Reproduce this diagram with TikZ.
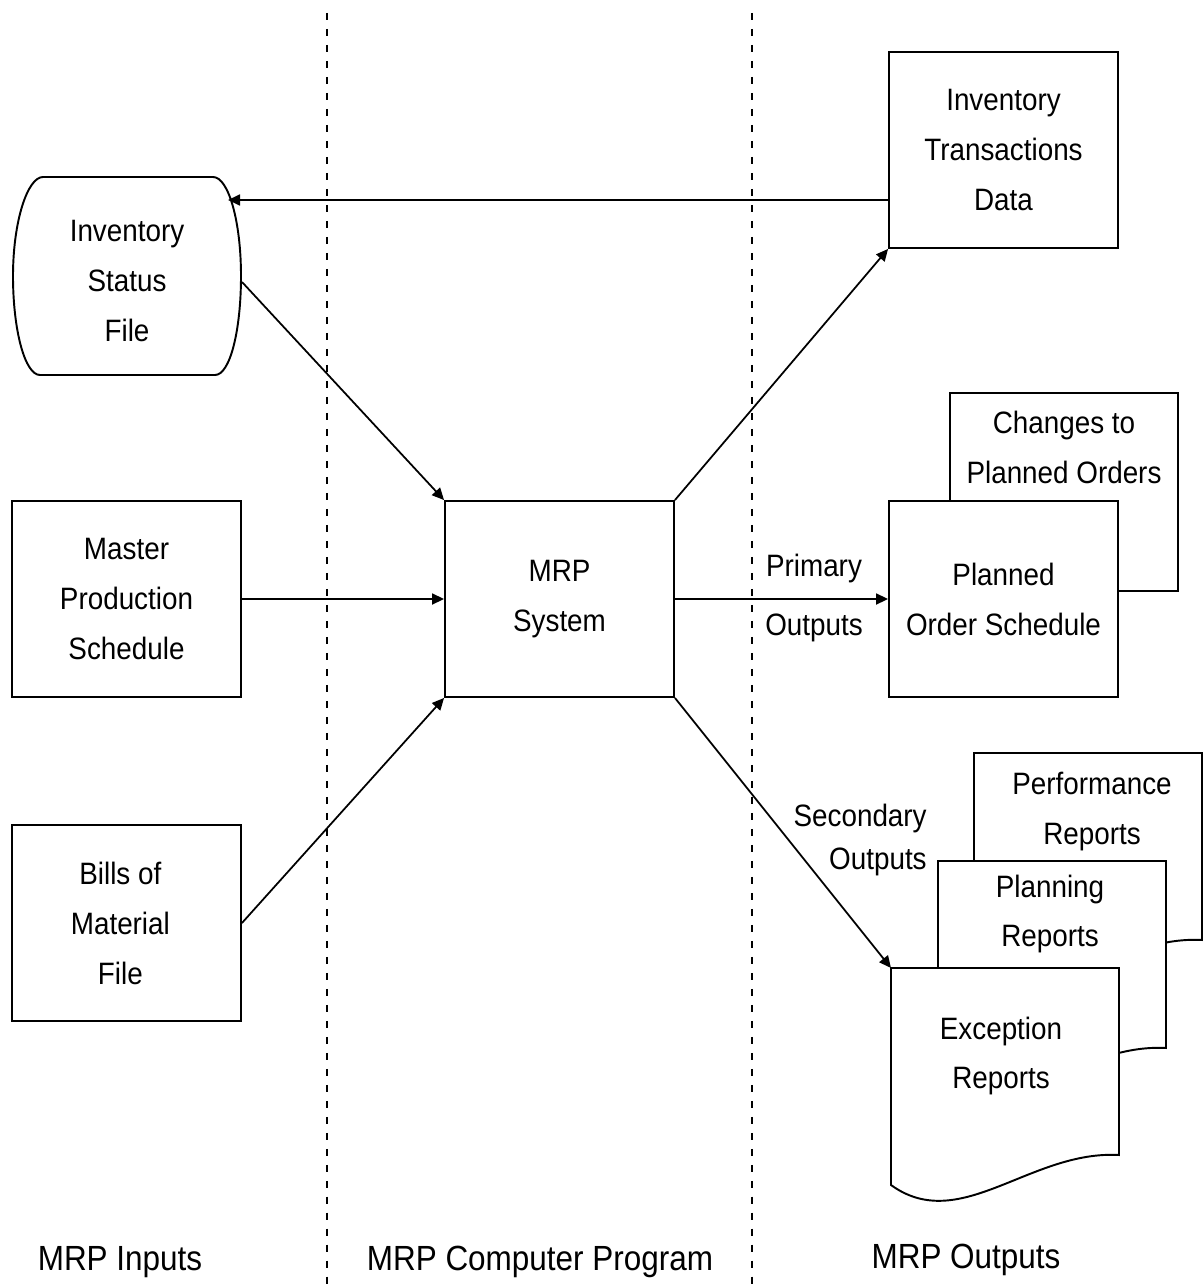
\documentclass[tikz,border=0pt]{standalone}
\usepackage{fontspec}
\setmainfont[FakeStretch=0.9]{Liberation Sans}
\usetikzlibrary{arrows.meta}

\newcommand\boxfont{\fontsize{17.6}{28.45}\selectfont}
\newcommand\capfont{\fontsize{19.9}{24}\selectfont}

\tikzset{
  box/.style={draw, line width=1.1pt, fill=white, minimum width=4.58cm,
    minimum height=3.92cm, inner sep=0pt, align=center, font=\boxfont},
  txt/.style={align=center, font=\boxfont, inner sep=0pt},
  conn/.style={line width=1pt, -{Triangle[length=0.24cm,width=0.22cm]}},
  divider/.style={line width=0.8pt, dash pattern=on 0.14cm off 0.18cm},
  caption/.style={font=\capfont, anchor=base, inner sep=0pt},
  % printed report page with a wavy lower edge, origin at its top-left corner
  docpage/.pic={
    \draw[line width=1.1pt, fill=white] (0,0) -- (228,0) -- (228,187)
      .. controls (139,182) and (69,267) .. (0,217) -- cycle;
  }
}

\begin{document}
\begin{tikzpicture}[x=0.02cm, y=-0.02cm]
\useasboundingbox (0,0) rectangle (1203,1287);

% column dividers
\draw[divider] (327,13) -- (327,1287);
\draw[divider] (752,13) -- (752,1287);

% inputs
\draw[line width=1.1pt, fill=white] (43,177) -- (213,177)
  .. controls (228.5,177) and (241,221.4) .. (241,276)
  .. controls (241,330.6) and (230,375) .. (215,375)
  -- (40,375)
  .. controls (25,375) and (13,330.6) .. (13,276)
  .. controls (13,221.4) and (27.5,177) .. (43,177) -- cycle;
\node[txt] (isf) at (127,281) {Inventory\\Status\\File};
\coordinate (isfin) at (228,200);
\coordinate (isfout) at (242,282);

\node[box] (mps) at (126.5,599) {Master\\Production\\Schedule};
\node[box] (bom) at (126.5,923) {\hspace*{-7pt}Bills of\\\hspace*{-7pt}Material\\\hspace*{-7pt}File};

% program
\node[box] (mrp) at (559.5,599) {MRP\\System};

% outputs
\node[box] (itd) at (1003.5,150) {Inventory\\Transactions\\Data};

\node[box, minimum width=4.56cm, minimum height=3.96cm] (cpo) at (1064,492) {};
\node[txt] (cpotext) at (1064,447) {Changes to\\Planned Orders};
\node[box] (pos) at (1003.5,599) {Planned\\Order Schedule};

\pic at (974,753) {docpage};
\node[txt] (perf) at (1092,812) {Performance\\Reports};
\pic at (938,861) {docpage};
\node[txt] (plan) at (1050,914) {Planning\\Reports};
\pic at (891,968) {docpage};
\node[txt] (exc) at (1001,1056) {Exception\\Reports};
\coordinate (excnw) at (891,968);

% flows
\draw[conn] (itd.west |- isfin) -- (isfin);
\draw[conn] (isfout) -- (mrp.north west);
\draw[conn] (mps.east) -- (mrp.west);
\draw[conn] (bom.east) -- (mrp.south west);
\draw[conn] (mrp.north east) -- (itd.south west);
\draw[conn] (mrp.east) -- (pos.west);
\draw[conn] (mrp.south east) -- (excnw);

% flow labels
\node[txt, font=\fontsize{17.6}{33.6}\selectfont] (prim) at (814,598) {Primary\\Outputs};
\node[txt, align=right, anchor=east, font=\fontsize{17.6}{25}\selectfont] (sec) at (927,840) {Secondary\\Outputs};

% column captions
\node[caption] (capin) at (120,1270) {MRP Inputs};
\node[caption] (capprog) at (540,1270) {MRP Computer Program};
\node[caption] (capout) at (966,1268) {MRP Outputs};
\end{tikzpicture}
\end{document}
